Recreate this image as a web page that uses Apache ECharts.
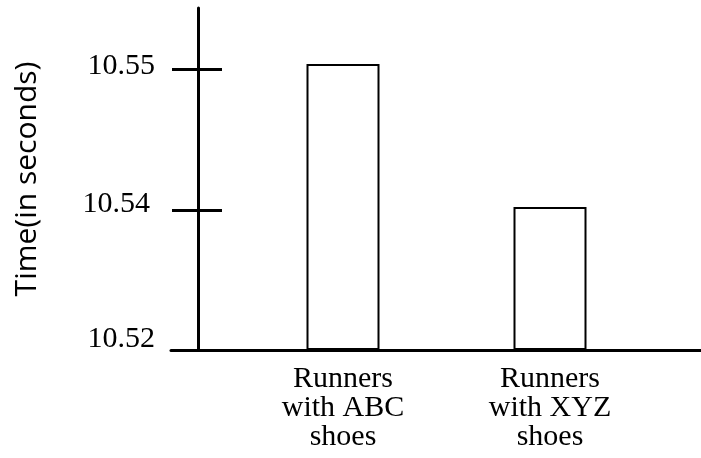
<!DOCTYPE html>
<html>
<head>
<meta charset="utf-8">
<script src="https://cdn.jsdelivr.net/npm/echarts@6/dist/echarts.min.js"></script>
<style>
  html, body { margin: 0; padding: 0; background: #fff; }
  #chart { width: 701px; height: 458px; }
</style>
</head>
<body>
<div id="chart"></div>
<script>
// data
const categories = ['Runners\nwith ABC\nshoes', 'Runners\nwith XYZ\nshoes'];
const times = [10.5504, 10.5402];
// the axis is drawn with equal gaps between these (uneven) values
const tickValues = [10.52, 10.54, 10.55];
const tickLabels = ['10.52', '10.54', '10.55'];
const axisTopValue = 10.5544;

// value -> position along the stretched axis (piecewise linear between ticks)
function toPos(v) {
    let i = 0;
    while (i < tickValues.length - 2 && v > tickValues[i + 1]) i++;
    const a = tickValues[i], b = tickValues[i + 1];
    return i + (v - a) / (b - a);
}

const posTicks = tickValues.map(toPos);
const yMax = toPos(axisTopValue);
const serif = 'Liberation Serif';

// labels sit a bit above their ticks in the original
const tickFont = { color: '#000', fontFamily: serif, fontSize: 30 };
const labelRich = {
    l0: Object.assign({ padding: [0, 0, 22, 0] }, tickFont),
    l1: Object.assign({ padding: [0, 5, 12, 0] }, tickFont),
    l2: Object.assign({ padding: [0, 0, 8, 0] }, tickFont)
};

const chart = echarts.init(document.getElementById('chart'));
const option = {
    backgroundColor: '#fff',
    animation: false,
    grid: [
        // bars
        { left: 239.5, right: 47.5, top: 8, bottom: 108 },
        // frame (axes)
        { left: 171, right: 0, top: 8, bottom: 108 }
    ],
    xAxis: [
        {
            type: 'category', gridIndex: 0, data: categories,
            axisLine: { show: false }, axisTick: { show: false },
            axisLabel: { color: '#000', fontFamily: serif, fontSize: 30, lineHeight: 29, margin: 15 }
        },
        {
            type: 'value', gridIndex: 1, min: 0, max: 1,
            axisLine: { show: true, onZero: false, lineStyle: { color: '#000', width: 3 } },
            axisTick: { show: false }, axisLabel: { show: false }, splitLine: { show: false }
        }
    ],
    yAxis: [
        {
            type: 'value', gridIndex: 0, min: 0, max: yMax,
            show: false, splitLine: { show: false }
        },
        {
            type: 'value', gridIndex: 1, position: 'left', min: 0, max: yMax, offset: -27,
            name: 'Time(in seconds)', nameLocation: 'middle', nameRotate: 90, nameGap: 156,
            nameTextStyle: { color: '#000', fontFamily: 'Open Sans', fontSize: 30 },
            axisLine: { show: true, onZero: false, lineStyle: { color: '#000', width: 3 } },
            axisTick: { show: true, length: 26, customValues: posTicks, lineStyle: { color: '#000', width: 3 } },
            axisLabel: {
                customValues: posTicks,
                formatter: v => {
                    const i = posTicks.findIndex(p => Math.abs(p - v) < 1e-6);
                    return '{l' + i + '|' + tickLabels[i] + '}';
                },
                rich: labelRich,
                color: '#000', fontFamily: serif, fontSize: 30, margin: 43
            },
            splitLine: { show: false }
        },
        {
            type: 'value', gridIndex: 1, position: 'left', min: 0, max: yMax, offset: -27,
            axisLine: { show: false, onZero: false },
            axisTick: { show: true, inside: true, length: 24, customValues: posTicks, lineStyle: { color: '#000', width: 3 } },
            axisLabel: { show: false }, splitLine: { show: false }
        }
    ],
    series: [
        {
            type: 'bar', xAxisIndex: 0, yAxisIndex: 0,
            data: times.map(toPos),
            barWidth: 73,
            itemStyle: { color: '#fff', borderColor: '#000', borderWidth: 2 }
        }
    ]
};
chart.setOption(option);
</script>
</body>
</html>
